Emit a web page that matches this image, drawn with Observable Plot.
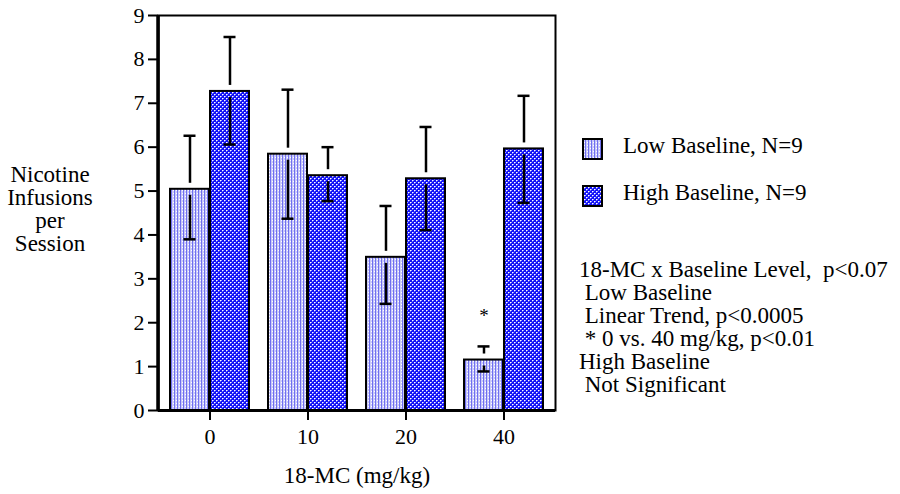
<!DOCTYPE html>
<html>
<head>
<meta charset="utf-8">
<script src="https://cdn.jsdelivr.net/npm/d3@7"></script>
<script src="https://cdn.jsdelivr.net/npm/@observablehq/plot@0.6"></script>
<style>
  html, body { margin: 0; padding: 0; background: #fff; }
  #wrap { position: relative; width: 900px; height: 494px; font-family: "Liberation Serif", "Times New Roman", serif; color: #000; }
  .t { position: absolute; font-size: 23px; line-height: 23px; white-space: pre; }
</style>
</head>
<body>
<div id="wrap"></div>
<script>
// ---- data ----
const doses = ["0", "10", "20", "40"];
const lowMean  = [5.04, 5.84, 3.49, 1.15];
const lowUpper = [6.26, 7.31, 4.66, 1.46];
const lowLower = [3.90, 4.37, 2.43, 0.89];
const highMean  = [7.27, 5.35, 5.28, 5.96];
const highUpper = [8.51, 6.00, 6.46, 7.17];
const highLower = [6.06, 4.77, 4.11, 4.73];
const yTicks = [0, 1, 2, 3, 4, 5, 6, 7, 8, 9];
const seriesNames = ["Low Baseline, N=9", "High Baseline, N=9"];
const starDose = ["40"];
const starValue = [2.15];
const yLabelLines = ["Nicotine", "Infusions", "per", "Session"];
const xLabel = "18-MC (mg/kg)";
const statLines = ["18-MC x Baseline Level,  p<0.07", " Low Baseline", " Linear Trend, p<0.0005", " * 0 vs. 40 mg/kg, p<0.01", "High Baseline", " Not Significant"];

const low = doses.map((d, i) => ({dose: d, mean: lowMean[i], upper: lowUpper[i], lower: lowLower[i]}));
const high = doses.map((d, i) => ({dose: d, mean: highMean[i], upper: highUpper[i], lower: highLower[i]}));
const stars = starDose.map((d, i) => ({dose: d, v: starValue[i], t: "*"}));

const ew = 2.5;
const chart = Plot.plot({
  width: 900, height: 494,
  marginLeft: 158, marginTop: 15, marginRight: 345, marginBottom: 84,
  style: {fontFamily: "'Liberation Serif', 'Times New Roman', serif", fontSize: "22px", background: "white", color: "black"},
  x: {domain: doses, paddingInner: 0.19, paddingOuter: 0.11, axis: null},
  y: {domain: [0, 9], axis: null},
  marks: [
    Plot.barY(low, {x: "dose", y: "mean", insetRight: 40, fill: "url(#lowPat)", stroke: "black", strokeWidth: 2}),
    Plot.barY(high, {x: "dose", y: "mean", insetLeft: 40, fill: "url(#highPat)", stroke: "black", strokeWidth: 2}),
    // upper whiskers (gap just above the bar top)
    Plot.ruleX(low, {x: "dose", y1: "upper", y2: "mean", dx: -20, insetBottom: 6, strokeWidth: ew}),
    Plot.ruleX(high, {x: "dose", y1: "upper", y2: "mean", dx: 20, insetBottom: 6, strokeWidth: ew}),
    // lower whiskers (inside the bar)
    Plot.ruleX(low, {x: "dose", y1: "mean", y2: "lower", dx: -20, insetTop: 6, strokeWidth: ew}),
    Plot.ruleX(high, {x: "dose", y1: "mean", y2: "lower", dx: 20, insetTop: 6, strokeWidth: ew}),
    // caps
    Plot.tickY(low, {x: "dose", y: "upper", insetLeft: 13.5, insetRight: 53.5, strokeWidth: ew}),
    Plot.tickY(low, {x: "dose", y: "lower", insetLeft: 13.5, insetRight: 53.5, strokeWidth: ew}),
    Plot.tickY(high, {x: "dose", y: "upper", insetLeft: 53.5, insetRight: 13.5, strokeWidth: ew}),
    Plot.tickY(high, {x: "dose", y: "lower", insetLeft: 53.5, insetRight: 13.5, strokeWidth: ew}),
    Plot.text(stars, {x: "dose", y: "v", text: "t", dx: -20, fontSize: 19}),
    Plot.frame({stroke: "black", strokeWidth: 2}),
    Plot.ruleY([0], {stroke: "black", strokeWidth: 3}),
    Plot.axisY({ticks: yTicks, tickSize: 10, tickPadding: 4, strokeWidth: 2, fontSize: 22, label: null}),
    Plot.axisX({tickSize: 10, tickPadding: 8, strokeWidth: 2, fontSize: 22, label: null})
  ]
});

// patterns for the bar fills
const ns = "http://www.w3.org/2000/svg";
const defsHtml = `
  <pattern id="lowPat" patternUnits="userSpaceOnUse" width="3" height="3">
    <rect width="3" height="3" fill="#cacaf8"/>
    <rect x="0" y="0" width="1" height="3" fill="#7070f0"/>
    <rect x="2" y="1" width="1" height="1" fill="#ffffff"/>
  </pattern>
  <pattern id="highPat" patternUnits="userSpaceOnUse" width="4" height="4">
    <rect width="4" height="4" fill="#1212f6"/>
    <rect x="0" y="0" width="1" height="1" fill="#ffffff"/>
    <rect x="2" y="2" width="1" height="1" fill="#ffffff"/>
    <rect x="1" y="0" width="1" height="1" fill="#9a9aff"/>
    <rect x="3" y="2" width="1" height="1" fill="#9a9aff"/>
    <rect x="0" y="1" width="1" height="1" fill="#6a6aff"/>
    <rect x="2" y="3" width="1" height="1" fill="#6a6aff"/>
  </pattern>`;
const defs = document.createElementNS(ns, "defs");
defs.innerHTML = defsHtml;
chart.insertBefore(defs, chart.firstChild);

// thicker left axis line (drawn on the frame's left edge)
const leftLine = document.createElementNS(ns, "line");
leftLine.setAttribute("x1", 158); leftLine.setAttribute("x2", 158);
leftLine.setAttribute("y1", 15); leftLine.setAttribute("y2", 411);
leftLine.setAttribute("stroke", "black"); leftLine.setAttribute("stroke-width", 3.5);
chart.appendChild(leftLine);

const wrap = document.getElementById("wrap");
wrap.appendChild(chart);

function addText(txt, left, top, extra) {
  const d = document.createElement("div");
  d.className = "t";
  d.textContent = txt;
  d.style.left = left + "px";
  d.style.top = top + "px";
  if (extra) Object.assign(d.style, extra);
  wrap.appendChild(d);
  return d;
}
// y label
addText(yLabelLines.join("\n"), 0, 163, {width: "100px", textAlign: "center"});
// x label
addText(xLabel, 157, 464, {width: "400px", textAlign: "center"});
// legend
const pats = ["lowPat", "highPat"];
const legendTops = [138, 185];
const legendTextTops = [134, 181];
seriesNames.forEach((name, i) => {
  const s = document.createElementNS(ns, "svg");
  s.setAttribute("width", 22); s.setAttribute("height", 23);
  s.style.position = "absolute"; s.style.left = "582px"; s.style.top = legendTops[i] + "px";
  const r = document.createElementNS(ns, "rect");
  r.setAttribute("x", 1); r.setAttribute("y", 1); r.setAttribute("width", 19); r.setAttribute("height", 20);
  r.setAttribute("fill", `url(#${pats[i]})`); r.setAttribute("stroke", "black"); r.setAttribute("stroke-width", 2);
  s.appendChild(r);
  wrap.appendChild(s);
  addText(name, 623, legendTextTops[i]);
});
// statistics text
addText(statLines.join("\n"), 579, 258);
</script>
</body>
</html>
